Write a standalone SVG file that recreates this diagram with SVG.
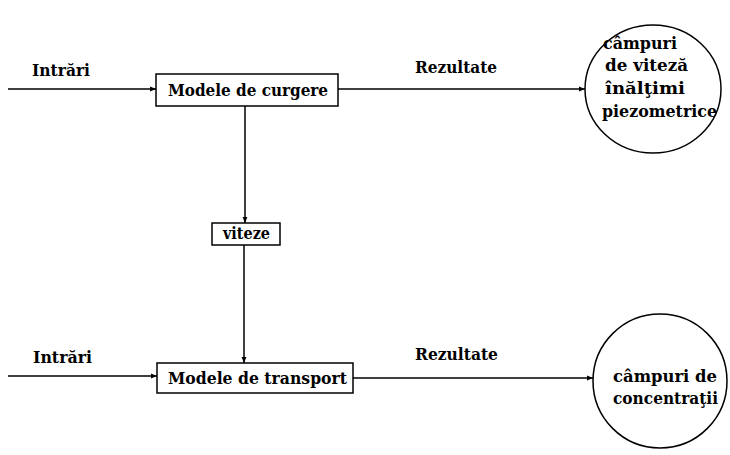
<svg xmlns="http://www.w3.org/2000/svg" width="730" height="455" viewBox="0 0 730 455">
<style>
text{font-family:"DejaVu Serif","Liberation Serif",serif;font-weight:bold;font-size:16px;fill:#000}
.box{fill:#fff;stroke:#000;stroke-width:1.5}
.circ{fill:#fff;stroke:#000;stroke-width:1.5}
.con{stroke:#000;stroke-width:1.5;fill:none;marker-end:url(#ah)}
</style>
<defs>
<marker id="ah" viewBox="0 0 10 10" refX="10" refY="5" markerWidth="6" markerHeight="6" markerUnits="userSpaceOnUse" orient="auto">
<path d="M0,1 L10,5 L0,9 z" fill="#000"/>
</marker>
</defs>
<rect width="730" height="455" fill="#fff"/>
<g id="connectors">
<line class="con" x1="8" y1="89" x2="156" y2="89"/>
<line class="con" x1="338" y1="89" x2="585" y2="89"/>
<line class="con" x1="245" y1="106" x2="245" y2="223"/>
<line class="con" x1="244" y1="245" x2="244" y2="363"/>
<line class="con" x1="8" y1="376" x2="157" y2="376"/>
<line class="con" x1="353" y1="378" x2="593" y2="378"/>
</g>
<g id="labels">
<text x="32" y="76" textLength="58" lengthAdjust="spacingAndGlyphs">Intrări</text>
<text x="415" y="73" textLength="82" lengthAdjust="spacingAndGlyphs">Rezultate</text>
<text x="33" y="363" textLength="59" lengthAdjust="spacingAndGlyphs">Intrări</text>
<text x="415" y="360" textLength="83" lengthAdjust="spacingAndGlyphs">Rezultate</text>
</g>
<g id="curgere">
<rect class="box" x="156" y="74" width="182" height="32"/>
<text x="168" y="96" textLength="160" lengthAdjust="spacingAndGlyphs">Modele de curgere</text>
</g>
<g id="viteze">
<rect class="box" x="212" y="223" width="68" height="22"/>
<text x="223" y="239" font-size="15" textLength="47" lengthAdjust="spacingAndGlyphs">viteze</text>
</g>
<g id="transport">
<rect class="box" x="157" y="363" width="196" height="30"/>
<text x="168" y="384" textLength="179" lengthAdjust="spacingAndGlyphs">Modele de transport</text>
</g>
<g id="rez1">
<ellipse class="circ" cx="653" cy="89" rx="68" ry="64"/>
<text x="603" y="49" textLength="74" lengthAdjust="spacingAndGlyphs">câmpuri</text>
<text x="605" y="71" textLength="83" lengthAdjust="spacingAndGlyphs">de viteză</text>
<text x="605" y="94" textLength="80" lengthAdjust="spacingAndGlyphs">înălţimi</text>
<text x="602" y="117" textLength="115" lengthAdjust="spacingAndGlyphs">piezometrice</text>
</g>
<g id="rez2">
<ellipse class="circ" cx="660" cy="381" rx="67" ry="67"/>
<text x="613" y="382" textLength="104" lengthAdjust="spacingAndGlyphs">câmpuri de</text>
<text x="613" y="404" textLength="105" lengthAdjust="spacingAndGlyphs">concentraţii</text>
</g>
</svg>
